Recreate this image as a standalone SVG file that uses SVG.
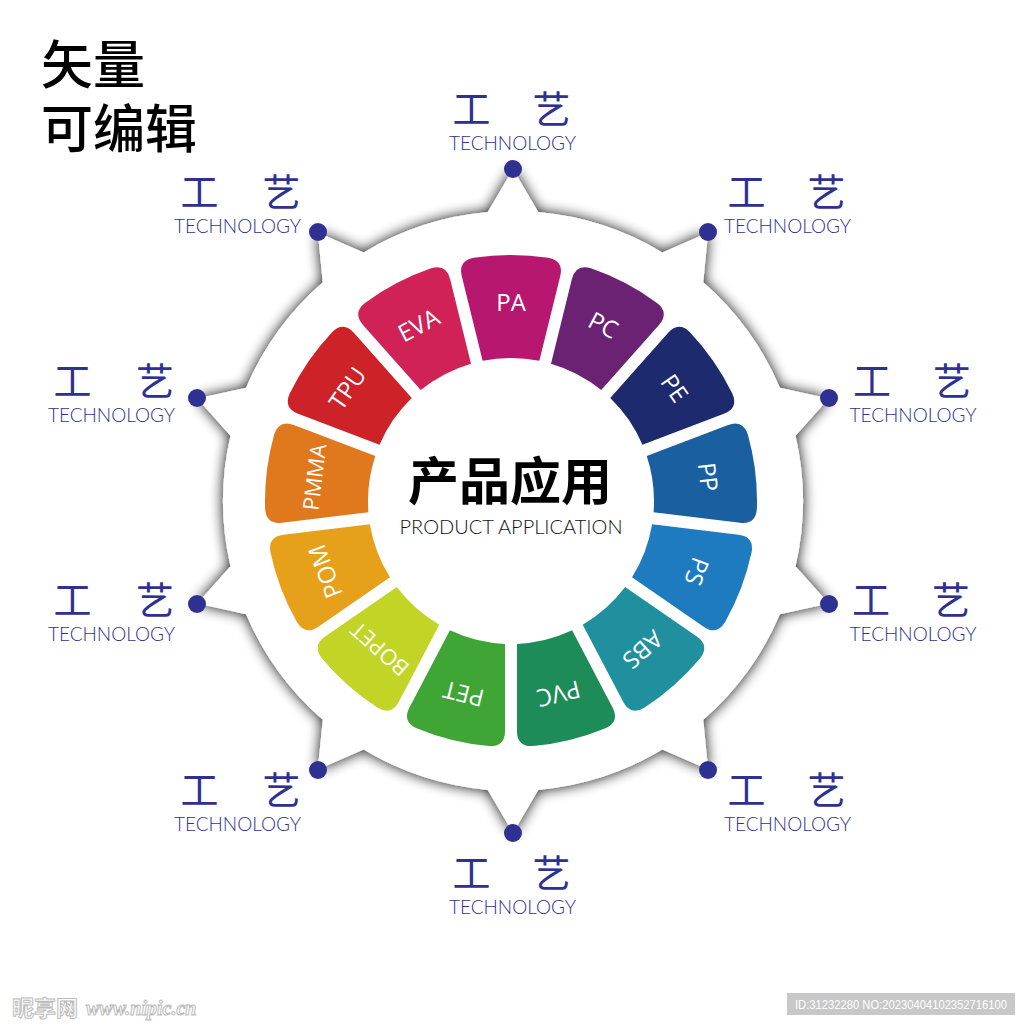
<svg xmlns="http://www.w3.org/2000/svg" xmlns:xlink="http://www.w3.org/1999/xlink" width="1024" height="1024" viewBox="0 0 1024 1024">
<style>
.title{font-family:"Noto Sans CJK SC","Noto Sans",sans-serif;font-size:52px;font-weight:500;fill:#000}
.cn{font-family:"Noto Sans CJK SC","Noto Sans",sans-serif;font-size:38px;fill:#2E3192;text-anchor:middle}
.en{font-family:Lato,"Open Sans",sans-serif;font-size:19px;font-weight:300;fill:#2E3192;text-anchor:middle}
.seg text{font-family:"Open Sans","Noto Sans",sans-serif;font-size:24px;fill:#fff;text-anchor:middle}
.dot{fill:#2E3192}
</style>
<defs>
<filter id="sh" x="-20%" y="-20%" width="140%" height="140%">
<feGaussianBlur in="SourceAlpha" stdDeviation="7"/>
<feComponentTransfer><feFuncA type="linear" slope="0.95"/></feComponentTransfer>
<feMerge><feMergeNode/><feMergeNode in="SourceGraphic"/></feMerge>
</filter>
<path id="seg" d="M-28.37,-140.16 L-49.20,-224.68 Q-53.03,-240.22 -37.30,-243.16 A246,246 0 0 1 37.30,-243.16 Q53.03,-240.22 49.20,-224.68 L28.37,-140.16 A143,143 0 0 0 -28.37,-140.16 Z"/>
</defs>
<rect width="1024" height="1024" fill="#fff"/>
<g id="title">
<text class="title" x="41" y="84">矢量</text>
<text class="title" x="41" y="148">可编辑</text>
</g>
<g id="gear" filter="url(#sh)">
<path fill="#fff" d="M487.72,212.10 L513,169 L538.28,212.10 A290,290 0 0 1 662.36,252.42 L708.15,232.41 L703.26,282.13 A290,290 0 0 1 779.95,387.69 L828.75,398.41 L795.57,435.76 A290,290 0 0 1 795.57,566.24 L828.75,603.59 L779.95,614.31 A290,290 0 0 1 703.26,719.87 L708.15,769.59 L662.36,749.58 A290,290 0 0 1 538.28,789.90 L513,833 L487.72,789.90 A290,290 0 0 1 363.64,749.58 L317.85,769.59 L322.74,719.87 A290,290 0 0 1 246.05,614.31 L197.25,603.59 L230.43,566.24 A290,290 0 0 1 230.43,435.76 L197.25,398.41 L246.05,387.69 A290,290 0 0 1 322.74,282.13 L317.85,232.41 L363.64,252.42 A290,290 0 0 1 487.72,212.10 Z"/>
</g>
<g id="connectors"></g>
<g id="ring" class="seg">
<g id="seg-pa" transform="translate(511,501) rotate(0)"><use xlink:href="#seg" fill="#B8176F"/><text x="0" y="-190">PA</text></g>
<g id="seg-pc" transform="translate(511,501) rotate(27.692)"><use xlink:href="#seg" fill="#6B2273"/><text x="0" y="-190">PC</text></g>
<g id="seg-pe" transform="translate(511,501) rotate(55.385)"><use xlink:href="#seg" fill="#1E2A6E"/><text x="0" y="-190">PE</text></g>
<g id="seg-pp" transform="translate(511,501) rotate(83.077)"><use xlink:href="#seg" fill="#1A5F9F"/><text x="0" y="-190">PP</text></g>
<g id="seg-ps" transform="translate(511,501) rotate(110.769)"><use xlink:href="#seg" fill="#1F7BBF"/><text x="0" y="-190">PS</text></g>
<g id="seg-abs" transform="translate(511,501) rotate(138.462)"><use xlink:href="#seg" fill="#21909E"/><text x="0" y="-190">ABS</text></g>
<g id="seg-pvc" transform="translate(511,501) rotate(166.154)"><use xlink:href="#seg" fill="#1E8C58"/><text x="0" y="-190">PVC</text></g>
<g id="seg-pet" transform="translate(511,501) rotate(193.846)"><use xlink:href="#seg" fill="#3FA535"/><text x="0" y="-190">PET</text></g>
<g id="seg-bopet" transform="translate(511,501) rotate(221.538)"><use xlink:href="#seg" fill="#C2D425"/><text x="0" y="-190" style="font-size:22px">BOPET</text></g>
<g id="seg-pom" transform="translate(511,501) rotate(249.231)"><use xlink:href="#seg" fill="#E7A01A"/><text x="0" y="-190">POM</text></g>
<g id="seg-pmma" transform="translate(511,501) rotate(276.923)"><use xlink:href="#seg" fill="#E0781E"/><text x="0" y="-190" style="font-size:22px">PMMA</text></g>
<g id="seg-tpu" transform="translate(511,501) rotate(304.615)"><use xlink:href="#seg" fill="#CD2328"/><text x="0" y="-190">TPU</text></g>
<g id="seg-eva" transform="translate(511,501) rotate(332.308)"><use xlink:href="#seg" fill="#D12258"/><text x="0" y="-190">EVA</text></g>
</g>
<g id="center">
<text x="510" y="500" style="font-family:'Noto Sans CJK SC',sans-serif;font-size:51px;font-weight:700;text-anchor:middle;fill:#000">产品应用</text>
<text x="511" y="534" style="font-family:Lato,'Open Sans',sans-serif;font-size:20px;font-weight:300;text-anchor:middle;fill:#111">PRODUCT APPLICATION</text>
</g>
<g id="tech-1"><circle class="dot" cx="513" cy="169" r="9"/><text class="cn" x="471.5" y="123">工</text><text class="cn" x="551.5" y="123">艺</text><text class="en" x="512.5" y="150">TECHNOLOGY</text></g>
<g id="tech-2"><circle class="dot" cx="708" cy="232" r="9"/><text class="cn" x="746.5" y="206">工</text><text class="cn" x="826.5" y="206">艺</text><text class="en" x="787.5" y="233">TECHNOLOGY</text></g>
<g id="tech-3"><circle class="dot" cx="829" cy="398" r="9"/><text class="cn" x="872" y="395">工</text><text class="cn" x="952" y="395">艺</text><text class="en" x="913" y="422">TECHNOLOGY</text></g>
<g id="tech-4"><circle class="dot" cx="829" cy="604" r="9"/><text class="cn" x="871" y="614">工</text><text class="cn" x="951" y="614">艺</text><text class="en" x="913" y="641">TECHNOLOGY</text></g>
<g id="tech-5"><circle class="dot" cx="708" cy="770" r="9"/><text class="cn" x="746.5" y="804">工</text><text class="cn" x="826.5" y="804">艺</text><text class="en" x="787.5" y="831">TECHNOLOGY</text></g>
<g id="tech-6"><circle class="dot" cx="513" cy="833" r="9"/><text class="cn" x="471.5" y="887">工</text><text class="cn" x="551.5" y="887">艺</text><text class="en" x="512.5" y="914">TECHNOLOGY</text></g>
<g id="tech-7"><circle class="dot" cx="318" cy="770" r="9"/><text class="cn" x="199.5" y="804">工</text><text class="cn" x="281.5" y="804">艺</text><text class="en" x="237.5" y="831">TECHNOLOGY</text></g>
<g id="tech-8"><circle class="dot" cx="197" cy="604" r="9"/><text class="cn" x="72.5" y="614">工</text><text class="cn" x="155" y="614">艺</text><text class="en" x="111.5" y="641">TECHNOLOGY</text></g>
<g id="tech-9"><circle class="dot" cx="197" cy="398" r="9"/><text class="cn" x="72.5" y="395">工</text><text class="cn" x="155" y="395">艺</text><text class="en" x="111.5" y="422">TECHNOLOGY</text></g>
<g id="tech-10"><circle class="dot" cx="318" cy="232" r="9"/><text class="cn" x="199.5" y="206">工</text><text class="cn" x="281.5" y="206">艺</text><text class="en" x="237.5" y="233">TECHNOLOGY</text></g>
<g id="watermark">
<text x="12" y="1016" style="font-family:'Noto Sans CJK SC',sans-serif;font-size:22px;font-weight:700;fill:#fff;stroke:#bbb;stroke-width:1">昵享网</text>
<text x="86" y="1015" style="font-family:'Liberation Serif',serif;font-size:20px;font-style:italic;font-weight:700;fill:#fff;stroke:#bbb;stroke-width:1">www.nipic.cn</text>
<rect x="787" y="993" width="228" height="22" fill="#C8C8C8"/>
<text x="901" y="1008.5" textLength="212" lengthAdjust="spacingAndGlyphs" style="font-family:'Liberation Sans',sans-serif;font-size:12px;fill:#fff;text-anchor:middle">ID:31232280 NO:20230404102352716100</text>
</g>
</svg>
